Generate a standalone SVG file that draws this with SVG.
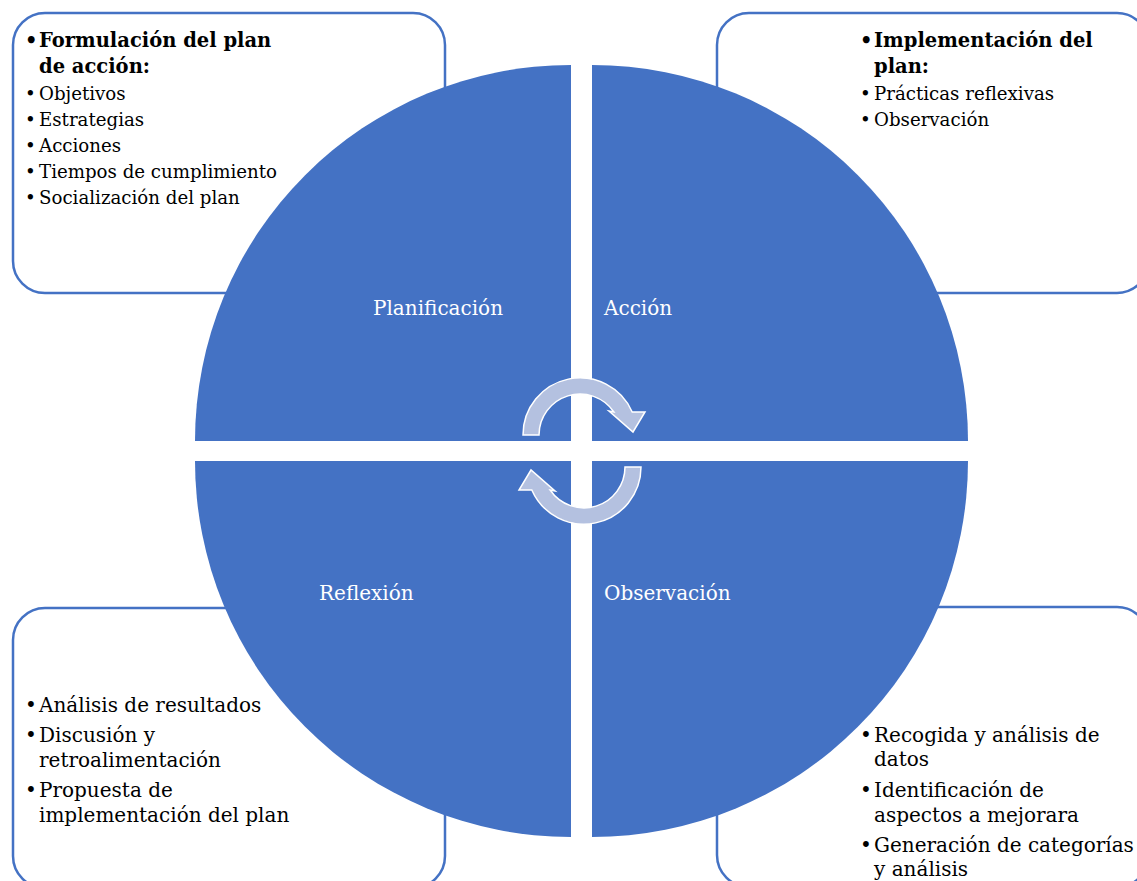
<svg xmlns="http://www.w3.org/2000/svg" width="1137" height="881" viewBox="0 0 1137 881">
<style>
.box{fill:#fff;stroke:#4472C4;stroke-width:2.5}
.quad{fill:#4472C4}
.arr{fill:#B4C1E0;stroke:#fff;stroke-width:1.5;stroke-linejoin:miter}
.t{font-family:"DejaVu Serif","Liberation Serif",serif;fill:#000}
.s{font-size:18.2px}
.l{font-size:20px}
.b{font-size:19.5px;font-weight:bold}
.lab{font-family:"DejaVu Serif","Liberation Serif",serif;font-size:20px;fill:#fff}
</style>
<rect width="1137" height="881" fill="#fff"/>
<g id="box-formulacion">
<rect class="box" x="13" y="13" width="432" height="280" rx="32"/>
<text class="t b" x="25" y="47">•</text><text class="t b" x="39" y="47">Formulación del plan</text>
<text class="t b" x="39" y="73">de acción:</text>
<text class="t s" x="25" y="100">•</text><text class="t s" x="39" y="100">Objetivos</text>
<text class="t s" x="25" y="126">•</text><text class="t s" x="39" y="126">Estrategias</text>
<text class="t s" x="25" y="152">•</text><text class="t s" x="39" y="152">Acciones</text>
<text class="t s" x="25" y="178">•</text><text class="t s" x="39" y="178">Tiempos de cumplimiento</text>
<text class="t s" x="25" y="204">•</text><text class="t s" x="39" y="204">Socialización del plan</text>
</g>
<g id="box-implementacion">
<rect class="box" x="717" y="13" width="432" height="280" rx="32"/>
<text class="t b" x="860" y="47">•</text><text class="t b" x="874" y="47">Implementación del</text>
<text class="t b" x="874" y="73">plan:</text>
<text class="t s" x="860" y="100">•</text><text class="t s" x="874" y="100">Prácticas reflexivas</text>
<text class="t s" x="860" y="126">•</text><text class="t s" x="874" y="126">Observación</text>
</g>
<g id="box-analisis">
<rect class="box" x="13" y="608" width="432" height="280" rx="32"/>
<text class="t l" x="25" y="712">•</text><text class="t l" x="39" y="712">Análisis de resultados</text>
<text class="t l" x="25" y="742">•</text><text class="t l" x="39" y="742">Discusión y</text>
<text class="t l" x="39" y="767">retroalimentación</text>
<text class="t l" x="25" y="797">•</text><text class="t l" x="39" y="797">Propuesta de</text>
<text class="t l" x="39" y="822">implementación del plan</text>
</g>
<g id="box-recogida">
<rect class="box" x="717" y="607" width="432" height="280" rx="32"/>
<text class="t l" x="860" y="742">•</text><text class="t l" x="874" y="742">Recogida y análisis de</text>
<text class="t l" x="874" y="766">datos</text>
<text class="t l" x="860" y="797">•</text><text class="t l" x="874" y="797">Identificación de</text>
<text class="t l" x="874" y="822">aspectos a mejorara</text>
<text class="t l" x="860" y="852">•</text><text class="t l" x="874" y="852">Generación de categorías</text>
<text class="t l" x="874" y="876">y análisis</text>
</g>
<g id="q-planificacion">
<path class="quad" d="M571 441 L195 441 A376 376 0 0 1 571 65 Z"/>
<text class="lab" x="373" y="315">Planificación</text>
</g>
<g id="q-accion">
<path class="quad" d="M592 441 L592 65 A376 376 0 0 1 968 441 Z"/>
<text class="lab" x="604" y="315">Acción</text>
</g>
<g id="q-observacion">
<path class="quad" d="M592 461 L968 461 A376 376 0 0 1 592 837 Z"/>
<text class="lab" x="604" y="600">Observación</text>
</g>
<g id="q-reflexion">
<path class="quad" d="M571 461 L571 837 A376 376 0 0 1 195 461 Z"/>
<text class="lab" x="319" y="600">Reflexión</text>
</g>
<g id="connectors">
<path id="arrow-top" class="arr" d="M523 435 A57 57 0 0 1 632.2 412 L645 412 L633 432 L609 411 L613.9 412 A41 41 0 0 0 539 435 Z"/>
<path id="arrow-bottom" class="arr" transform="rotate(180 582 451)" d="M523 435 A57 57 0 0 1 632.2 412 L645 412 L633 432 L609 411 L613.9 412 A41 41 0 0 0 539 435 Z"/>
</g>
</svg>
